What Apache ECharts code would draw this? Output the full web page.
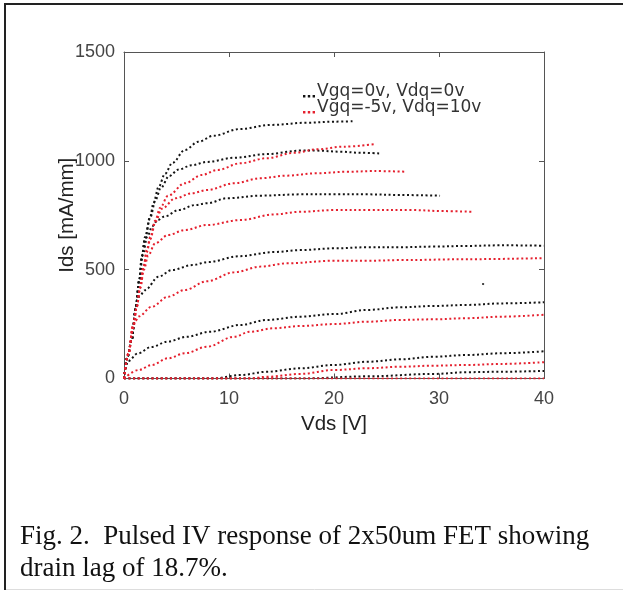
<!DOCTYPE html>
<html>
<head>
<meta charset="utf-8">
<script src="https://cdn.jsdelivr.net/npm/echarts@6/dist/echarts.min.js"></script>
<style>
    html, body { margin: 0; padding: 0; background: #fff; }
    #main { width: 623px; height: 592px; }
</style>
</head>
<body>
<div id="main"></div>
<script>
    // Vds [V], Ids [mA/mm] pairs
    // black: quiescent Vgq=0v, Vdq=0v
    var black1 = [[0,0],[0.3,95],[0.75,180],[1.1,320],[1.45,450],[1.7,560],[2,650],[2.5,745],[2.8,805],[3.3,880],[3.9,940],[4.6,990],[5.8,1050],[7.1,1088],[8.5,1115],[11,1146],[14,1165],[17.4,1175],[20,1180],[22,1182]];
    var black2 = [[0,0],[0.3,95],[0.75,180],[1.1,320],[1.45,450],[1.7,560],[2,640],[2.5,740],[3,820],[3.5,875],[4.3,930],[5.2,960],[6.45,980],[7.9,995],[10.5,1014],[13.6,1031],[16.8,1047],[18.4,1047],[20.6,1042],[22.5,1037],[24.4,1034]];
    var black3 = [[0,0],[0.3,95],[0.75,180],[1.1,320],[1.45,450],[1.8,570],[2.2,650],[2.7,700],[3.2,728],[3.9,745],[5.2,774],[6.8,797],[7.9,805],[9.8,828],[13,840],[16.8,846],[20,846],[23.2,846],[26.3,843],[30.1,840]];
    var black4 = [[0,0],[0.3,95],[0.75,180],[1.05,300],[1.25,360],[1.5,380],[2,406],[3.3,468],[4.55,498],[6.5,521],[8,535],[11,562],[14.3,581],[16.8,590],[20,598],[23.2,603],[26.3,603],[29.5,606],[32.7,609],[35.9,612],[40,610]];
    var black5 = [[0,0],[0.4,80],[1.3,115],[2.6,145],[4.2,170],[6,192],[8.2,215],[11.1,246],[13.6,269],[16.8,284],[20,296],[23.2,315],[26.3,327],[29.5,333],[32.7,338],[35.9,345],[40,350]];
    var black6 = [[0,0],[8.5,0],[11.1,16],[13.6,31],[16.8,47],[20,62],[23.2,77],[26.3,88],[29.5,100],[32.7,108],[35.9,116],[40,125]];
    var black7 = [[0,0],[17,0],[23.2,10],[29.5,21],[32.7,29],[35.9,31],[40,35]];
    var strayPoint = [[34.2,434]];

    // red: quiescent Vgq=-5v, Vdq=10v
    var red1 = [[0,0],[0.43,115],[0.9,250],[1.22,330],[1.54,420],[1.86,515],[2.17,590],[2.5,650],[2.97,725],[3.45,785],[4.2,840],[5.8,897],[7.4,935],[8.9,958],[11.1,989],[13.6,1012],[16.2,1037],[18.4,1053],[20.9,1065],[23.8,1076]];
    var red2 = [[0,0],[0.43,115],[0.9,250],[1.22,330],[1.54,420],[1.86,510],[2.17,580],[2.5,640],[3,720],[3.6,780],[4.9,828],[6.45,851],[7.9,866],[10.5,897],[13,920],[15.5,932],[18.4,943],[21.3,950],[23.8,953],[26.8,950]];
    var red3 = [[0,0],[0.43,115],[0.9,250],[1.22,330],[1.54,415],[1.9,500],[2.3,565],[2.97,621],[4.2,659],[5.8,682],[7.9,705],[11.1,728],[14.3,754],[16.8,766],[20,774],[23.2,774],[27.3,774],[30.5,769],[33.2,766]];
    var red4 = [[0,0],[0.4,110],[0.8,220],[1.1,265],[1.4,285],[2.65,330],[4.2,376],[5.8,407],[7.9,447],[10.5,488],[13,514],[15.5,529],[20,541],[23.2,541],[26.3,544],[32.7,548],[40,553]];
    var red5 = [[0,0],[1.38,39],[2.65,62],[4.2,93],[5.8,116],[7.9,146],[10.5,192],[12,215],[14.3,231],[16.8,241],[20,250],[23.2,261],[26.3,269],[29.5,272],[32.7,277],[35.9,284],[40,293]];
    var red6 = [[0,0],[12,0],[13.6,8],[16.8,21],[20,39],[23.2,47],[26.3,54],[29.5,59],[32.7,62],[35.9,67],[40,75]];
    var red7 = [[0,0],[40,0]];

    var xTicks = [0, 10, 20, 30, 40];
    var yTicks = [0, 500, 1000, 1500];
    var legendNames = ['Vgq=0v, Vdq=0v', 'Vgq=-5v, Vdq=10v'];
    var caption = 'Fig. 2.  Pulsed IV response of 2x50um FET showing\ndrain lag of 18.7%.';

    var BLACK = '#141414';
    var RED = '#e5202e';
    var AXIS = '#555';
    var TEXT = '#444';
    var NAME = '#222';

    function curve(name, data, color) {
        return {
            name: name,
            type: 'line',
            data: data,
            showSymbol: false,
            smooth: 0.35,
            smoothMonotone: 'x',
            silent: true,
            color: color,
            lineStyle: { color: color, width: 2, type: [2, 2.6] }
        };
    }

    var series = [];
    [black1, black2, black3, black4, black5, black6, black7].forEach(function (d) {
        series.push(curve(legendNames[0], d, BLACK));
    });
    [red1, red2, red3, red4, red5, red6, red7].forEach(function (d) {
        series.push(curve(legendNames[1], d, RED));
    });
    series.push({
        type: 'scatter', data: strayPoint, symbol: 'rect', symbolSize: 2,
        itemStyle: { color: BLACK }, silent: true
    });

    // the "..." legend sample sits on the text baseline
    var dotsIcon = 'path://M0,0L10,0M0,8h2v2h-2zM4,8h2v2h-2zM8,8h2v2h-2z';

    function legendRow(name, top) {
        return {
            data: [name],
            left: 298,
            top: top,
            itemWidth: 12,
            itemHeight: 12,
            itemGap: 0,
            icon: dotsIcon,
            itemStyle: { borderWidth: 0 },
            textStyle: { fontFamily: 'DejaVu Sans', fontSize: 17, color: '#333', padding: [0, 0, 0, -3] }
        };
    }

    var axisCommon = {
        axisLine: { show: true, onZero: false, lineStyle: { color: AXIS } },
        axisTick: { show: true, inside: true, length: 5, lineStyle: { color: AXIS } },
        splitLine: { show: false }
    };

    var option = {
        animation: false,
        backgroundColor: '#fff',
        textStyle: { fontFamily: 'Liberation Sans' },
        grid: { left: 124, right: 79, top: 52, bottom: 213.5 },
        legend: [legendRow(legendNames[0], 78), legendRow(legendNames[1], 94)],
        xAxis: [Object.assign({
            type: 'value', min: 0, max: 40, interval: 10,
            name: 'Vds [V]', nameLocation: 'middle', nameGap: 35,
            nameTextStyle: { fontSize: 20.5, color: NAME },
            axisLabel: { fontSize: 18, color: TEXT, margin: 12,
                formatter: function (v) { return xTicks.indexOf(v) >= 0 ? v : ''; } }
        }, axisCommon), Object.assign({
            type: 'value', min: 0, max: 40, interval: 10, position: 'top',
            axisLabel: { show: false }
        }, axisCommon)],
        yAxis: [Object.assign({
            type: 'value', min: 0, max: 1500, interval: 500,
            name: 'Ids [mA/mm]', nameLocation: 'middle', nameGap: 46, nameMoveOverlap: false,
            nameTextStyle: { fontSize: 20.5, color: NAME },
            axisLabel: { fontSize: 18, color: TEXT, margin: 9,
                formatter: function (v) { return yTicks.indexOf(v) >= 0 ? v : ''; } }
        }, axisCommon), Object.assign({
            type: 'value', min: 0, max: 1500, interval: 500, position: 'right',
            axisLabel: { show: false }
        }, axisCommon)],
        series: series,
        graphic: [
            // figure frame
            { type: 'line', shape: { x1: 5, y1: 3, x2: 5, y2: 590 }, style: { stroke: '#222', lineWidth: 2 } },
            { type: 'line', shape: { x1: 4, y1: 4, x2: 623, y2: 4 }, style: { stroke: '#222', lineWidth: 2 } },
            { type: 'line', shape: { x1: 6, y1: 589.5, x2: 623, y2: 589.5 }, style: { stroke: '#ddd', lineWidth: 1 } },
            {
                type: 'text', left: 20, top: 521,
                style: { text: caption, fontFamily: 'Liberation Serif', fontSize: 27, lineHeight: 32, fill: '#111' }
            }
        ]
    };

    var chart = echarts.init(document.getElementById('main'));
    chart.setOption(option);
</script>
</body>
</html>
